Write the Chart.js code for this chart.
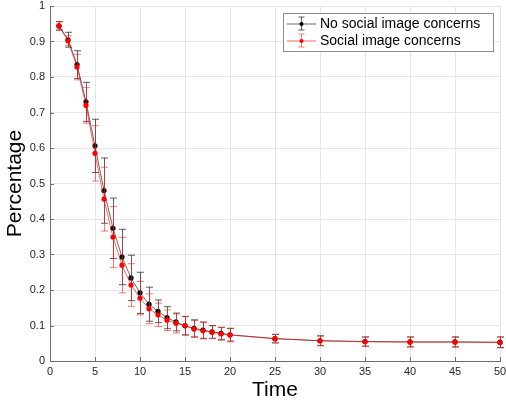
<!DOCTYPE html>
<html>
<head>
<meta charset="utf-8">
<script src="https://cdn.jsdelivr.net/npm/chart.js@4"></script>
<style>
	body { margin: 0; background: #fff; }
	canvas { display: block; }
</style>
</head>
<body>
<canvas id="dropoutChart" width="506" height="406"></canvas>
<script>
	// time points (rounds)
	var timePoints = [1, 2, 3, 4, 5, 6, 7, 8, 9, 10, 11, 12, 13, 14, 15, 16, 17, 18, 19, 20, 25, 30, 35, 40, 45, 50];

	// share still active, no social image concerns
	var noConcernValues = [0.944, 0.905, 0.835, 0.730, 0.606, 0.480, 0.374, 0.293, 0.234, 0.192, 0.160, 0.140, 0.122, 0.110, 0.099, 0.092, 0.087, 0.082, 0.078, 0.074, 0.063, 0.057, 0.055, 0.054, 0.054, 0.053];
	var noConcernErrors = [0.012, 0.021, 0.039, 0.055, 0.075, 0.092, 0.085, 0.078, 0.064, 0.058, 0.048, 0.032, 0.031, 0.025, 0.026, 0.024, 0.023, 0.018, 0.017, 0.018, 0.012, 0.014, 0.013, 0.014, 0.014, 0.015];

	// share still active, social image concerns
	var concernValues = [0.944, 0.902, 0.828, 0.720, 0.585, 0.456, 0.349, 0.270, 0.214, 0.177, 0.147, 0.130, 0.115, 0.106, 0.100, 0.090, 0.085, 0.081, 0.076, 0.073, 0.063, 0.057, 0.054, 0.053, 0.053, 0.052];
	var concernErrors = [0.012, 0.014, 0.036, 0.050, 0.078, 0.090, 0.086, 0.078, 0.060, 0.047, 0.042, 0.033, 0.029, 0.027, 0.026, 0.024, 0.023, 0.018, 0.018, 0.019, 0.012, 0.013, 0.013, 0.014, 0.014, 0.015];

	var xTickStep = 5;
	var yTickStep = 0.1;

	var seriesColors = {
		black: { line: '#000000', bar: 'rgba(40,40,40,0.75)', dot: '#000000' },
		red: { line: '#ff0000', bar: 'rgba(255,30,30,0.6)', dot: '#ff0000' }
	};

	function toPoints(values) {
		return values.map(function (v, i) {
			return { x: timePoints[i], y: v };
		});
	}

	/**
	 * Vertical error bars with caps, drawn just before each dataset
	 * so the line and dots of that dataset sit on top
	 */
	var errorBarsPlugin = {
		id: 'errorBars',
		beforeDatasetDraw: function (chart, args) {
			var ds = chart.data.datasets[args.index];
			if (!ds.errors) return;
			var ctx = chart.ctx;
			var xs = chart.scales.x;
			var ys = chart.scales.y;
			ctx.save();
			ctx.strokeStyle = ds.errorColor;
			ctx.lineWidth = 1;
			ds.data.forEach(function (p, i) {
				var e = ds.errors[i];
				var px = Math.round(xs.getPixelForValue(p.x)) + 0.5;
				var top = ys.getPixelForValue(p.y + e);
				var bot = ys.getPixelForValue(p.y - e);
				ctx.beginPath();
				ctx.moveTo(px, top);
				ctx.lineTo(px, bot);
				ctx.moveTo(px - 3.5, top);
				ctx.lineTo(px + 3.5, top);
				ctx.moveTo(px - 3.5, bot);
				ctx.lineTo(px + 3.5, bot);
				ctx.stroke();
			});
			ctx.restore();
		}
	};

	// small inward tick marks on the left and bottom axes
	var innerTicksPlugin = {
		id: 'innerTicks',
		afterDatasetsDraw: function (chart) {
			var ctx = chart.ctx;
			var area = chart.chartArea;
			ctx.save();
			ctx.strokeStyle = '#6e6e6e';
			ctx.lineWidth = 1;
			ctx.beginPath();
			chart.scales.x.ticks.forEach(function (t) {
				var px = Math.round(chart.scales.x.getPixelForValue(t.value)) + 0.5;
				ctx.moveTo(px, area.bottom);
				ctx.lineTo(px, area.bottom - 4);
			});
			chart.scales.y.ticks.forEach(function (t) {
				var py = Math.round(chart.scales.y.getPixelForValue(t.value)) + 0.5;
				ctx.moveTo(area.left, py);
				ctx.lineTo(area.left + 4, py);
			});
			ctx.stroke();
			ctx.restore();
		}
	};

	// boxed legend with an error bar symbol for each series
	var errorLegendPlugin = {
		id: 'errorLegend',
		afterDraw: function (chart) {
			var ctx = chart.ctx;
			var box = { x: 283, y: 13, w: 210, h: 38 };
			ctx.save();
			ctx.fillStyle = '#ffffff';
			ctx.fillRect(box.x, box.y, box.w, box.h);
			ctx.strokeStyle = '#8c8c8c';
			ctx.lineWidth = 1;
			ctx.strokeRect(box.x + 0.5, box.y + 0.5, box.w, box.h);

			var rows = [chart.data.datasets[1], chart.data.datasets[0]];
			rows.forEach(function (ds, i) {
				var cy = 24 + i * 17;
				var cx = 301.5;
				ctx.strokeStyle = ds.borderColor;
				ctx.lineWidth = ds.borderWidth;
				ctx.beginPath();
				ctx.moveTo(287, cy);
				ctx.lineTo(316, cy);
				ctx.stroke();
				ctx.strokeStyle = ds.errorColor;
				ctx.lineWidth = 1;
				ctx.beginPath();
				ctx.moveTo(cx, cy - 7);
				ctx.lineTo(cx, cy + 6);
				ctx.moveTo(cx - 3, cy - 7);
				ctx.lineTo(cx + 3, cy - 7);
				ctx.moveTo(cx - 3, cy + 6);
				ctx.lineTo(cx + 3, cy + 6);
				ctx.stroke();
				ctx.fillStyle = ds.pointBackgroundColor;
				ctx.beginPath();
				ctx.arc(cx, cy, 2, 0, Math.PI * 2);
				ctx.fill();

				ctx.fillStyle = '#000000';
				ctx.font = '14px "Liberation Sans", Arial, sans-serif';
				ctx.textBaseline = 'middle';
				ctx.textAlign = 'left';
				ctx.fillText(ds.label, 320, cy + 0.5);
			});
			ctx.restore();
		}
	};

	var tickFont = { family: '"Liberation Sans", Arial, sans-serif', size: 11 };
	var titleFont = { family: '"Liberation Sans", Arial, sans-serif', size: 21 };

	var ctx = document.getElementById('dropoutChart').getContext('2d');
	var dropoutChart = new Chart(ctx, {
		type: 'line',
		data: {
			datasets: [{
				label: 'Social image concerns',
				data: toPoints(concernValues),
				errors: concernErrors,
				errorColor: seriesColors.red.bar,
				borderColor: seriesColors.red.line,
				borderWidth: 0.6,
				pointBackgroundColor: seriesColors.red.dot,
				pointBorderColor: seriesColors.red.dot,
				pointBorderWidth: 0,
				pointRadius: 2.6,
				tension: 0,
				fill: false,
				clip: false,
				order: 1
			}, {
				label: 'No social image concerns',
				data: toPoints(noConcernValues),
				errors: noConcernErrors,
				errorColor: seriesColors.black.bar,
				borderColor: seriesColors.black.line,
				borderWidth: 0.6,
				pointBackgroundColor: seriesColors.black.dot,
				pointBorderColor: seriesColors.black.dot,
				pointBorderWidth: 0,
				pointRadius: 2.6,
				tension: 0,
				fill: false,
				clip: false,
				order: 2
			}]
		},
		options: {
			responsive: false,
			animation: false,
			layout: {
				padding: { left: 0, top: 6, right: 6, bottom: 0 }
			},
			plugins: {
				legend: { display: false },
				tooltip: { enabled: false }
			},
			scales: {
				x: {
					type: 'linear',
					min: 0,
					max: 50,
					afterFit: function (scale) {
						scale.height = 45;
						scale.paddingLeft = 0;
						scale.paddingRight = 0;
					},
					ticks: {
						stepSize: xTickStep,
						color: '#262626',
						font: tickFont,
						padding: 4,
						maxRotation: 0
					},
					grid: { color: '#e6e6e6', drawTicks: false },
					border: { display: true, color: '#6e6e6e' },
					title: {
						display: true,
						text: 'Time',
						color: '#000000',
						font: titleFont,
						padding: { top: 0, bottom: 3 }
					}
				},
				y: {
					type: 'linear',
					min: 0,
					max: 1,
					afterFit: function (scale) {
						scale.width = 50;
						scale.paddingTop = 0;
						scale.paddingBottom = 0;
					},
					ticks: {
						stepSize: yTickStep,
						color: '#262626',
						font: tickFont,
						padding: 5,
						callback: function (value) {
							return String(Number(value.toFixed(1)));
						}
					},
					grid: { color: '#e6e6e6', drawTicks: false },
					border: { display: true, color: '#6e6e6e' },
					title: {
						display: true,
						text: 'Percentage',
						color: '#000000',
						font: titleFont,
						padding: { top: 3, bottom: 0 }
					}
				}
			}
		},
		plugins: [errorBarsPlugin, innerTicksPlugin, errorLegendPlugin]
	});
</script>
</body>
</html>
